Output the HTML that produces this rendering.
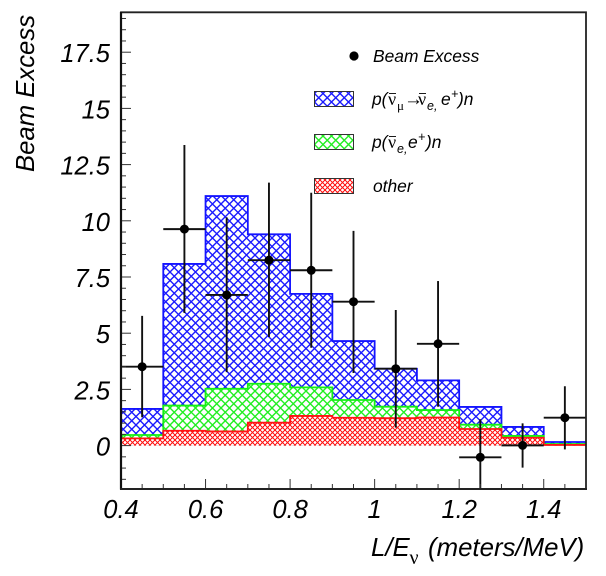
<!DOCTYPE html>
<html>
<head>
<meta charset="utf-8">
<title>Beam Excess chart</title>
<style>
html,body{margin:0;padding:0;background:#fff;}
svg{display:block;}
text{font-family:"Liberation Sans",sans-serif;font-style:italic;fill:#000;}
.sym{font-family:"Liberation Serif",serif;font-style:normal;}
</style>
</head>
<body>
<svg id="chart" xmlns="http://www.w3.org/2000/svg" width="606" height="576" viewBox="0 0 606 576">
<defs>
<pattern id="hatch-blue" patternUnits="userSpaceOnUse" width="8.5" height="8.5"><rect width="8.5" height="8.5" fill="#fff"/><path d="M0 0L8.5 8.5M8.5 0L0 8.5" stroke="#1a1aff" stroke-width="1.4"/></pattern>
<pattern id="hatch-green" patternUnits="userSpaceOnUse" width="8.5" height="8.5"><rect width="8.5" height="8.5" fill="#fff"/><path d="M0 0L8.5 8.5M8.5 0L0 8.5" stroke="#22ee22" stroke-width="1.4"/></pattern>
<pattern id="hatch-red" patternUnits="userSpaceOnUse" width="5" height="5"><rect width="5" height="5" fill="#fff"/><path d="M0 0L5 5M5 0L0 5" stroke="#ff1a1a" stroke-width="1.4" shape-rendering="crispEdges"/></pattern>
<clipPath id="plot-clip"><rect x="121" y="12.3" width="465" height="476.7"/></clipPath>
</defs>
<g id="hist"></g>
<g id="points" clip-path="url(#plot-clip)"></g>
<g id="ticks"></g>
<path d="M121 12.3H586V489H121Z" fill="none" stroke="#222" stroke-width="1.8"/>
<line x1="121" y1="12" x2="121" y2="489.5" stroke="#111" stroke-width="2.2"/>
<line x1="120" y1="489" x2="587" y2="489" stroke="#222" stroke-width="2"/>
<g id="labels"></g>
<text transform="translate(34,172) rotate(-90)" font-size="25.7">Beam Excess</text>
<g>
<text x="371" y="556" font-size="25.8">L/E</text>
<text class="sym" x="409.5" y="564" font-size="20">ν</text>
<text x="428" y="556" font-size="25.8">(meters/MeV)</text>
</g>
<g>
<g>
<circle cx="354" cy="56" r="4.6" fill="#000"/>
<text x="373" y="62" font-size="17.4">Beam Excess</text>
</g>
<g>
<rect x="314.5" y="91.5" width="39" height="15" fill="url(#hatch-blue)" stroke="#333" stroke-width="1"/>
<text x="372" y="105" font-size="17.4">p(</text>
<text class="sym" x="388" y="105" font-size="18">ν</text>
<line x1="389" y1="93.5" x2="396" y2="93.5" stroke="#000" stroke-width="0.9"/>
<text class="sym" x="397" y="110" font-size="13">μ</text>
<text class="sym" x="404" y="105" font-size="19">→</text>
<text class="sym" x="418" y="105" font-size="18">ν</text>
<line x1="419" y1="93.5" x2="426" y2="93.5" stroke="#000" stroke-width="0.9"/>
<text x="427" y="110" font-size="12.5">e,</text>
<text x="441" y="105" font-size="17.4">e</text>
<text x="451" y="98" font-size="12.5">+</text>
<text x="458" y="105" font-size="17.4">)n</text>
</g>
<g>
<rect x="314.5" y="134.5" width="39" height="15" fill="url(#hatch-green)" stroke="#333" stroke-width="1"/>
<text x="372" y="148" font-size="17.4">p(</text>
<text class="sym" x="388" y="148" font-size="18">ν</text>
<line x1="389" y1="136.5" x2="396" y2="136.5" stroke="#000" stroke-width="0.9"/>
<text x="397" y="153" font-size="12.5">e,</text>
<text x="408" y="148" font-size="17.4">e</text>
<text x="418" y="141" font-size="12.5">+</text>
<text x="426" y="148" font-size="17.4">)n</text>
</g>
<g>
<rect x="314.5" y="178.5" width="39" height="15" fill="url(#hatch-red)" stroke="#333" stroke-width="1"/>
<text x="373" y="192" font-size="17.4">other</text>
</g>
</g>
</svg>
<script>
const binEdges = [0.4, 0.5, 0.6, 0.7, 0.8, 0.9, 1.0, 1.1, 1.2, 1.3, 1.4, 1.5];
const totalStack = [1.63, 8.08, 11.1, 9.4, 6.75, 4.65, 3.42, 2.9, 1.72, 0.83, 0.16];
const nueStack = [0.47, 1.78, 2.53, 2.75, 2.59, 2.03, 1.73, 1.58, 0.93, 0.43, 0.07];
const otherStack = [0.32, 0.66, 0.63, 1.02, 1.32, 1.24, 1.22, 1.25, 0.74, 0.35, 0.03];
const pointX = [0.45, 0.55, 0.65, 0.75, 0.85, 0.95, 1.05, 1.15, 1.25, 1.35, 1.45];
const pointY = [3.51, 9.63, 6.7, 8.25, 7.8, 6.4, 3.42, 4.53, -0.52, 0.01, 1.24];
const errUp = [2.26, 3.74, 3.45, 3.45, 3.45, 3.15, 2.61, 2.79, 1.69, 0.98, 1.4];
const errDown = [2.25, 3.73, 3.43, 3.42, 3.45, 3.17, 2.62, 2.8, 1.69, 0.99, 1.41];
const xMajorTicks = [0.4, 0.6, 0.8, 1, 1.2, 1.4];
const xTickLabels = ["0.4", "0.6", "0.8", "1", "1.2", "1.4"];
const yMajorTicks = [0, 2.5, 5, 7.5, 10, 12.5, 15, 17.5];
const yTickLabels = ["0", "2.5", "5", "7.5", "10", "12.5", "15", "17.5"];

const NS = "http://www.w3.org/2000/svg";
function xPos(v) { return 121 + (v - 0.4) * 465 / 1.1; }
function yPos(v) { return 445.6 - v * 22.48; }

function stepPath(values) {
  let d = "M" + xPos(binEdges[0]) + " " + yPos(values[0]);
  values.forEach(function (v, i) {
    d += "L" + xPos(binEdges[i]) + " " + yPos(v);
    d += "L" + xPos(binEdges[i + 1]) + " " + yPos(v);
  });
  return d;
}
function drawHist(values, patternId, color, name) {
  const parent = document.getElementById("hist");
  const top = stepPath(values);
  const fill = document.createElementNS(NS, "path");
  
  
  fill.setAttribute("d", top + "L" + xPos(binEdges[binEdges.length - 1]) + " " + yPos(0) + "L" + xPos(binEdges[0]) + " " + yPos(0) + "Z");
  fill.setAttribute("fill", "url(#" + patternId + ")");
  parent.appendChild(fill);
  const line = document.createElementNS(NS, "path");
  
  
  line.setAttribute("d", top);
  line.setAttribute("fill", "none");
  line.setAttribute("stroke", color);
  line.setAttribute("stroke-width", "1.8");
  parent.appendChild(line);
}
drawHist(totalStack, "hatch-blue", "#1414ff", "signal-histogram");
drawHist(nueStack, "hatch-green", "#14f014", "nue-histogram");
drawHist(otherStack, "hatch-red", "#ff1414", "other-histogram");

function addLine(parent, x1, y1, x2, y2, color, width, name) {
  const l = document.createElementNS(NS, "line");
  
  
  l.setAttribute("x1", x1);
  l.setAttribute("y1", y1);
  l.setAttribute("x2", x2);
  l.setAttribute("y2", y2);
  l.setAttribute("stroke", color);
  l.setAttribute("stroke-width", width);
  parent.appendChild(l);
}

const pointsGroup = document.getElementById("points");
pointX.forEach(function (x, i) {
  const y = pointY[i];
  addLine(pointsGroup, xPos(x), yPos(y + errUp[i]), xPos(x), yPos(y - errDown[i]), "#111", 1.9, "error-bar-vertical");
  addLine(pointsGroup, xPos(x - 0.05), yPos(y), xPos(x + 0.05), yPos(y), "#111", 1.9, "error-bar-horizontal");
  const c = document.createElementNS(NS, "circle");
  
  
  c.setAttribute("cx", xPos(x));
  c.setAttribute("cy", yPos(y));
  c.setAttribute("r", 4.5);
  c.setAttribute("fill", "#000");
  pointsGroup.appendChild(c);
});

const ticksGroup = document.getElementById("ticks");
for (let n = 0; n <= 22; n++) {
  const v = 0.4 + n * 0.05;
  const len = n % 4 === 0 ? 10 : 5;
  addLine(ticksGroup, xPos(v), 489, xPos(v), 489 - len, "#333", 1, "x-tick");
}
for (let n = -3; n <= 38; n++) {
  const v = n * 0.5;
  const len = n % 5 === 0 ? 10 : 5;
  addLine(ticksGroup, 121, yPos(v), 121 + len, yPos(v), "#333", 1, "y-tick");
}

const labelsGroup = document.getElementById("labels");
function addLabel(x, y, str, anchor, name) {
  const t = document.createElementNS(NS, "text");
  
  
  t.setAttribute("x", x);
  t.setAttribute("y", y);
  t.setAttribute("font-size", "25.5");
  t.setAttribute("text-anchor", anchor);
  t.textContent = str;
  labelsGroup.appendChild(t);
}
xMajorTicks.forEach(function (v, i) {
  addLabel(xPos(v), 518, xTickLabels[i], "middle", "x-tick-label");
});
yMajorTicks.forEach(function (v, i) {
  addLabel(110, yPos(v) + 10, yTickLabels[i], "end", "y-tick-label");
});
</script>
</body>
</html>
